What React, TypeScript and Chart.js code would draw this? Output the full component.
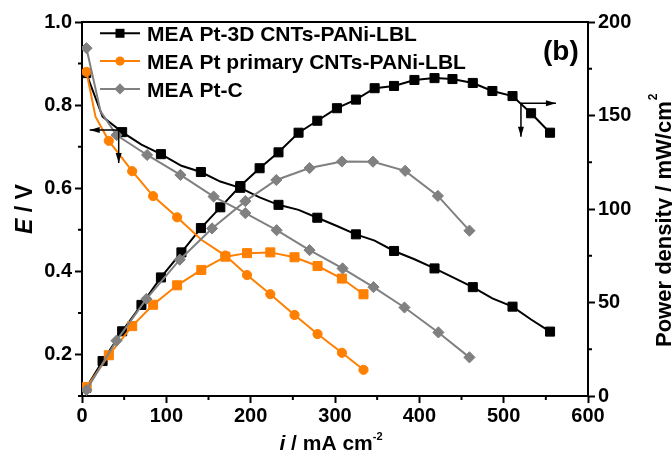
import React, { useEffect, useRef } from 'react';
import { Chart, registerables } from 'chart.js';

Chart.register(...registerables);

// ---------------- data ----------------
const seriesNames = ['MEA Pt-3D CNTs-PANi-LBL', 'MEA Pt primary CNTs-PANi-LBL', 'MEA Pt-C'];

// MEA Pt-3D CNTs-PANi-LBL
const blackCurrent = [5, 24.4, 47.6, 70.5, 93.6, 117.9, 141, 164, 187.7, 210.6, 233, 256.8, 279, 302.3, 324.8, 347, 370, 394.2, 418, 439.3, 463.4, 486.6, 510.5, 532.5, 555];
const blackVoltage = [0.877, 0.772, 0.735, 0.705, 0.682, 0.654, 0.639, 0.616, 0.601, 0.578, 0.56, 0.548, 0.529, 0.509, 0.489, 0.474, 0.449, 0.429, 0.407, 0.386, 0.362, 0.335, 0.315, 0.284, 0.255];
const blackPower = [4.4, 18.7, 34.6, 48.7, 63.4, 76.8, 89.8, 100.9, 112.3, 121.8, 130.3, 140.8, 147.2, 153.9, 158.5, 164.6, 165.8, 169, 170, 169.5, 167.4, 163.1, 160.4, 151.2, 140.8];

// MEA Pt primary CNTs-PANi-LBL
const orangeVoltageCurrent = [5.3, 16, 31.8, 59.5, 84.3, 112.8, 141.5, 170, 195.7, 223.3, 252, 279.3, 308.2, 333.8];
const orangeVoltage = [0.88, 0.772, 0.714, 0.641, 0.581, 0.53, 0.476, 0.438, 0.391, 0.345, 0.295, 0.249, 0.204, 0.163];
const orangePowerCurrent = [5.3, 31.8, 59.5, 84.3, 112.8, 141.5, 170, 195.7, 223.3, 252, 279.3, 308.2, 333.8];
const orangePower = [4.7, 21.8, 37.4, 48.8, 59.2, 67.4, 74.5, 76.4, 76.8, 74.2, 69.5, 62.8, 54.4];

// MEA Pt-C
const grayVoltageCurrent = [5.3, 22, 40.9, 77.2, 116.7, 156.1, 193.7, 230.8, 269.8, 309, 345.6, 382.4, 422.6, 459.4];
const grayVoltage = [0.937, 0.785, 0.728, 0.68, 0.632, 0.58, 0.54, 0.499, 0.451, 0.407, 0.362, 0.313, 0.253, 0.193];
const grayPowerCurrent = [5.3, 40.9, 76.4, 115.9, 154.2, 193.7, 230.4, 269.8, 308.2, 345, 383.2, 422, 459.4];
const grayPower = [3.2, 29.6, 51.9, 72.9, 89.6, 104.2, 115.5, 121.9, 125.4, 125.3, 120.4, 107, 88.4];

// tick labels
const xLabelValues = [0, 100, 200, 300, 400, 500, 600];
const eLabelValues = [0.2, 0.4, 0.6, 0.8, 1.0];
const pLabelValues = [0, 50, 100, 150, 200];

// arrow anchors (data coordinates): which axis each arrow points to
const arrowAnchors = [
  { yAxis: 'y', x: 43.5, y: 0.74, dir: 'left' },
  { yAxis: 'y2', x: 520.5, y: 156.5, dir: 'right' },
];

// ---------------- styles ----------------
const BLACK = '#000000';
const ORANGE = '#FF8000';
const GRAY = '#808080';
const FONT = "'Liberation Sans', Arial, Helvetica, sans-serif";

const near = (list: number[], v: number) => list.some((l) => Math.abs(l - v) < 1e-6);

const pts = (xs: number[], ys: number[]) => xs.map((x, i) => ({ x, y: ys[i] }));

function drawMarker(ctx: CanvasRenderingContext2D, style: string, x: number, y: number, color: string) {
  ctx.save();
  ctx.fillStyle = color;
  ctx.beginPath();
  if (style === 'rect') {
    ctx.rect(x - 4.5, y - 4.5, 9, 9);
  } else if (style === 'circle') {
    ctx.arc(x, y, 4.6, 0, Math.PI * 2);
  } else {
    ctx.moveTo(x, y - 5.6);
    ctx.lineTo(x + 5.6, y);
    ctx.lineTo(x, y + 5.6);
    ctx.lineTo(x - 5.6, y);
    ctx.closePath();
  }
  ctx.fill();
  ctx.restore();
}

function drawParts(ctx: CanvasRenderingContext2D, parts: { t: string; f: string; dy?: number }[], x: number, y: number) {
  let cx = x;
  for (const p of parts) {
    ctx.font = p.f;
    ctx.fillText(p.t, cx, y + (p.dy || 0));
    cx += ctx.measureText(p.t).width;
  }
}
function partsWidth(ctx: CanvasRenderingContext2D, parts: { t: string; f: string }[]) {
  let w = 0;
  for (const p of parts) {
    ctx.font = p.f;
    w += ctx.measureText(p.t).width;
  }
  return w;
}

const decorPlugin = {
  id: 'decor',
  afterDraw(chart: any) {
    const ctx: CanvasRenderingContext2D = chart.ctx;
    const { left, right, top, bottom } = chart.chartArea;
    const sx = chart.scales.x, sy = chart.scales.y, sy2 = chart.scales.y2;
    ctx.save();
    ctx.strokeStyle = '#000';
    ctx.lineWidth = 2;
    // top frame
    ctx.beginPath();
    ctx.moveTo(left - 1, top);
    ctx.lineTo(right + 1, top);
    ctx.stroke();
    // minor ticks
    ctx.beginPath();
    for (const t of sx.ticks) {
      if (near(xLabelValues, t.value)) continue;
      const p = sx.getPixelForValue(t.value);
      ctx.moveTo(p, bottom);
      ctx.lineTo(p, bottom + 4);
    }
    for (const t of sy.ticks) {
      if (near(eLabelValues, t.value)) continue;
      const p = sy.getPixelForValue(t.value);
      ctx.moveTo(left, p);
      ctx.lineTo(left - 4, p);
    }
    for (const t of sy2.ticks) {
      if (near(pLabelValues, t.value)) continue;
      const p = sy2.getPixelForValue(t.value);
      ctx.moveTo(right, p);
      ctx.lineTo(right + 4, p);
    }
    ctx.stroke();

    // arrows
    ctx.lineWidth = 1.5;
    ctx.fillStyle = '#000';
    for (const a of arrowAnchors) {
      const ax = sx.getPixelForValue(a.x);
      const ay = chart.scales[a.yAxis].getPixelForValue(a.y);
      const hx = a.dir === 'left' ? ax - 29 : ax + 35;
      const dy = a.dir === 'left' ? ay + 33 : ay + 33.5;
      ctx.beginPath();
      ctx.moveTo(ax, ay);
      ctx.lineTo(hx, ay);
      ctx.moveTo(ax, ay);
      ctx.lineTo(ax, dy);
      ctx.stroke();
      const s = a.dir === 'left' ? -1 : 1;
      ctx.beginPath();
      ctx.moveTo(hx, ay);
      ctx.lineTo(hx - s * 10, ay - 3);
      ctx.lineTo(hx - s * 10, ay + 3);
      ctx.closePath();
      ctx.fill();
      ctx.beginPath();
      ctx.moveTo(ax, dy);
      ctx.lineTo(ax - 3, dy - 10);
      ctx.lineTo(ax + 3, dy - 10);
      ctx.closePath();
      ctx.fill();
    }

    // legend
    const rows = [
      { name: seriesNames[0], color: BLACK, style: 'rect' },
      { name: seriesNames[1], color: ORANGE, style: 'circle' },
      { name: seriesNames[2], color: GRAY, style: 'rectRot' },
    ];
    rows.forEach((r, i) => {
      const y = top + 11.3 + i * 27.8;
      ctx.strokeStyle = r.color;
      ctx.lineWidth = 2;
      ctx.beginPath();
      ctx.moveTo(left + 18, y);
      ctx.lineTo(left + 58, y);
      ctx.stroke();
      drawMarker(ctx, r.style, left + 38, y, r.color);
      ctx.fillStyle = '#000';
      ctx.font = `bold 21px ${FONT}`;
      ctx.textAlign = 'left';
      ctx.textBaseline = 'alphabetic';
      ctx.fillText(r.name, left + 65, y + 8);
    });

    // (b)
    ctx.fillStyle = '#000';
    ctx.font = `bold 28px ${FONT}`;
    ctx.textAlign = 'left';
    ctx.textBaseline = 'alphabetic';
    ctx.fillText('(b)', 543, 60);

    // x title
    const xParts = [
      { t: 'i', f: `italic bold 21px ${FONT}` },
      { t: ' / mA cm', f: `bold 21px ${FONT}` },
      { t: '-2', f: `bold 11px ${FONT}`, dy: -10 },
    ];
    const xw = partsWidth(ctx, xParts);
    drawParts(ctx, xParts, 331 - xw / 2, 450);

    // left title
    ctx.save();
    ctx.translate(32, 209);
    ctx.rotate(-Math.PI / 2);
    const eParts = [
      { t: 'E', f: `italic bold 23px ${FONT}` },
      { t: ' / V', f: `bold 23px ${FONT}` },
    ];
    const ew = partsWidth(ctx, eParts);
    drawParts(ctx, eParts, -ew / 2, 0);
    ctx.restore();

    // right title
    ctx.save();
    ctx.translate(671, 347);
    ctx.rotate(-Math.PI / 2);
    ctx.font = `bold 22px ${FONT}`;
    const main = 'Power density / mW/cm';
    ctx.fillText(main, 0, 0);
    const mw = ctx.measureText(main).width;
    ctx.font = `bold 12px ${FONT}`;
    ctx.fillText('2', mw + 1, -14);
    ctx.restore();

    ctx.restore();
  },
};

const tickFont = { family: FONT, size: 20, weight: 'bold' as const };

function lineSet(label: string, xs: number[], ys: number[], axis: string, color: string, style: string, radius: number, hidden: number[], order: number) {
  return {
    label,
    data: pts(xs, ys),
    yAxisID: axis,
    showLine: true,
    borderColor: color,
    backgroundColor: color,
    borderWidth: 2,
    tension: 0,
    pointStyle: style,
    pointRadius: (c: any) => (hidden.includes(c.dataIndex) ? 0 : radius),
    pointBorderWidth: 1,
    pointBorderColor: color,
    pointBackgroundColor: color,
    order,
  };
}

export default function App() {
  const ref = useRef<HTMLCanvasElement>(null);
  useEffect(() => {
    const canvas = ref.current!;
    const blackOdd = blackCurrent.map((_, i) => i).filter((i) => i % 2 === 1);
    const chart = new Chart(canvas, {
      type: 'scatter',
      data: {
        datasets: [
          lineSet(seriesNames[2] + ' E', grayVoltageCurrent, grayVoltage, 'y', GRAY, 'rectRot', 5.6, [1], 1),
          lineSet(seriesNames[2] + ' P', grayPowerCurrent, grayPower, 'y2', GRAY, 'rectRot', 5.6, [], 1),
          lineSet(seriesNames[1] + ' E', orangeVoltageCurrent, orangeVoltage, 'y', ORANGE, 'circle', 4.6, [1, 6], 2),
          lineSet(seriesNames[1] + ' P', orangePowerCurrent, orangePower, 'y2', ORANGE, 'rect', 6.4, [], 2),
          lineSet(seriesNames[0] + ' E', blackCurrent, blackVoltage, 'y', BLACK, 'rect', 6.4, blackOdd, 3),
          lineSet(seriesNames[0] + ' P', blackCurrent, blackPower, 'y2', BLACK, 'rect', 6.4, [], 3),
        ] as any,
      },
      options: {
        responsive: false,
        animation: false,
        devicePixelRatio: 1,
        events: [],
        layout: { padding: { top: 22, left: 0, right: 0, bottom: 0 } },
        plugins: { legend: { display: false }, tooltip: { enabled: false }, title: { display: false } },
        scales: {
          x: {
            type: 'linear',
            position: 'bottom',
            min: 0,
            max: 600,
            ticks: {
              stepSize: 50,
              autoSkip: false,
              maxRotation: 0,
              color: '#000',
              font: tickFont,
              padding: 1,
              callback: (v: any) => (near(xLabelValues, Number(v)) ? String(Math.round(Number(v))) : ''),
            },
            grid: {
              drawOnChartArea: false,
              drawTicks: true,
              tickLength: 7,
              tickWidth: 2,
              tickColor: (c: any) => (c.tick && near(xLabelValues, c.tick.value) ? '#000' : 'rgba(0,0,0,0)'),
            },
            border: { display: true, width: 2, color: '#000' },
            afterFit: (s: any) => { s.height = 58; },
          },
          y: {
            type: 'linear',
            position: 'left',
            min: 0.1,
            max: 1.0,
            ticks: {
              stepSize: 0.1,
              autoSkip: false,
              color: '#000',
              font: tickFont,
              padding: 3,
              callback: (v: any) => (near(eLabelValues, Number(v)) ? Number(v).toFixed(1) : ''),
            },
            grid: {
              drawOnChartArea: false,
              drawTicks: true,
              tickLength: 7,
              tickWidth: 2,
              tickColor: (c: any) => (c.tick && near(eLabelValues, c.tick.value) ? '#000' : 'rgba(0,0,0,0)'),
            },
            border: { display: true, width: 2, color: '#000' },
            afterFit: (s: any) => { s.width = 82; },
          },
          y2: {
            type: 'linear',
            position: 'right',
            min: 0,
            max: 200,
            ticks: {
              stepSize: 25,
              autoSkip: false,
              color: '#000',
              font: tickFont,
              padding: 3,
              callback: (v: any) => (near(pLabelValues, Number(v)) ? String(Math.round(Number(v))) : ''),
            },
            grid: {
              drawOnChartArea: false,
              drawTicks: true,
              tickLength: 7,
              tickWidth: 2,
              tickColor: (c: any) => (c.tick && near(pLabelValues, c.tick.value) ? '#000' : 'rgba(0,0,0,0)'),
            },
            border: { display: true, width: 2, color: '#000' },
            afterFit: (s: any) => { s.width = 84; },
          },
        },
      } as any,
      plugins: [decorPlugin],
    });
    return () => chart.destroy();
  }, []);
  return (
    <div style={{ position: 'fixed', left: 0, top: 0, width: 672, height: 454, background: '#fff' }}>
      <canvas ref={ref} width={672} height={454} style={{ width: 672, height: 454, display: 'block' }} />
    </div>
  );
}
